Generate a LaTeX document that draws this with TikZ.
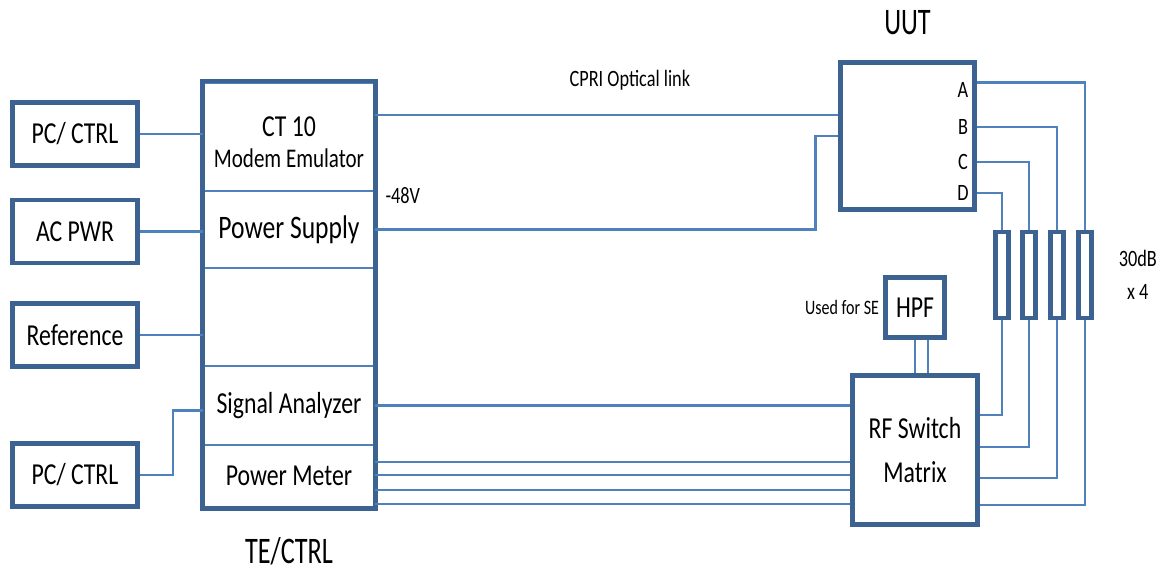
\documentclass[tikz,border=0pt]{standalone}
\usepackage{fontspec}
\setmainfont{Carlito}[FakeStretch=0.78]
\newfontfamily\titlefont{Carlito}[FakeStretch=0.7]
\usepackage{tikz}
\usetikzlibrary{positioning}
\definecolor{boxblue}{RGB}{60,98,146}
\definecolor{lineblue}{RGB}{79,129,189}
\tikzset{box/.style={draw=boxblue, line width=4pt, inner sep=0pt, align=center,
       font=\fontsize{26}{29}\selectfont},
       sect/.style={draw=lineblue, line width=2.2pt, minimum width=5.1cm,
       inner sep=0pt, align=center, font=\fontsize{26}{29}\selectfont},
       link/.style={draw=lineblue, line width=2.3pt},
       title/.style={inner sep=0pt, font=\titlefont\fontsize{32}{34}\selectfont},
       tag/.style={inner sep=0pt, align=center, font=\fontsize{20}{28}\selectfont}}

\begin{document}
\begin{tikzpicture}[x=0.03cm,y=-0.03cm]
       \useasboundingbox (0,0) rectangle (1171,573);
       \node[box, minimum width=3.75cm, minimum height=1.89cm] (pc1) at (75,134) {PC/ CTRL};
       \node[box, minimum width=3.75cm, minimum height=1.89cm] (acpwr) at (75,231.5) {AC PWR};
       \node[box, minimum width=3.75cm, minimum height=1.89cm] (ref) at (75,335) {Reference};
       \node[box, minimum width=3.75cm, minimum height=1.89cm] (pc2) at (75,475) {PC/ CTRL};
       \node[sect, minimum height=3.26cm] (ct) at (289,136.75) {};
       \node[inner sep=0pt, align=center, font=\fontsize{26}{27}\selectfont] (ctname)
       at ([yshift=-1.6mm]ct.center) {CT 10\\\fontsize{23}{27}\selectfont Modem Emulator};
       \node[sect, minimum height=2.31cm, font=\fontsize{28}{30}\selectfont] (ps) at (289,229.5) {Power Supply};
       \node[sect, minimum height=2.94cm] (blank) at (289,317) {};
       \node[sect, minimum height=2.37cm] (sa) at (289,405.5) {Signal Analyzer};
       \node[sect, minimum height=1.875cm] (pm) at (289,476.25) {Power Meter};
       \draw[box] (ct.north west) rectangle (pm.south east);
       \node[title, below=8.5mm of pm] (te) {TE/CTRL};
       \node[box, minimum width=4.02cm, minimum height=4.41cm] (uut) at (907.5,136) {};
       \node[title, above=7.6mm of uut] (uutname) {UUT};
       \node[tag] (lA) at (963,90) {A};
       \node[tag] (lB) at (963,127) {B};
       \node[tag] (lC) at (963,162) {C};
       \node[tag] (lD) at (963,193) {D};
       \node[box, line width=3.5pt, minimum width=0.39cm, minimum height=2.58cm] (attD) at (1002,275) {};
       \node[box, line width=3.5pt, minimum width=0.39cm, minimum height=2.58cm] (attC) at (1029,275) {};
       \node[box, line width=3.5pt, minimum width=0.39cm, minimum height=2.58cm] (attB) at (1057,275) {};
       \node[box, line width=3.5pt, minimum width=0.39cm, minimum height=2.58cm] (attA) at (1085,275) {};
       \node[tag, right=7.5mm of attA] (attlabel) {30dB\\x 4};
       \node[box, minimum width=1.77cm, minimum height=1.8cm] (hpf) at (915,307.5) {HPF};
       \node[tag, font=\fontsize{17.5}{20}\selectfont, left=1.2mm of hpf] (se) {Used for SE};
       \node[box, minimum width=3.75cm, minimum height=4.47cm, font=\fontsize{26}{38}\selectfont] (rf)
       at (915,450) {RF Switch\\Matrix};
       \draw[link] (pc1.east) -- (pc1.east -| ct.west);
       \draw[link] (acpwr.east) -- (acpwr.east -| ps.west);
       \draw[link] (ref.east) -- (ref.east -| blank.west);
       \draw[link] (pc2.east) -- ++(33,0) |- ([yshift=-1.5mm]sa.west);
       \draw[link] ([yshift=6.5mm]ct.east) -- ([yshift=6.5mm]ct.east -| uut.west)
       node[tag, pos=0.55, above=7mm] {CPRI Optical link};
       \draw[link] (ps.east) -- ++(440,0) |- (uut.west);
       \node[tag, anchor=west] (volt) at ([xshift=3mm,yshift=-1.8mm]ps.north east) {-48V};
       \draw[link] (lA.north -| uut.east) -| (attA.north);
       \draw[link] (lB -| uut.east) -| (attB.north);
       \draw[link] (lC -| uut.east) -| (attC.north);
       \draw[link] (lD -| uut.east) -| (attD.north);
       \draw[link] ([yshift=10.5mm]rf.east) -| (attD.south);
       \draw[link] ([yshift=0.9mm]rf.east) -| (attC.south);
       \draw[link] ([yshift=-8.4mm]rf.east) -| (attB.south);
       \draw[link] ([yshift=-16.5mm]rf.east) -| (attA.south);
       \draw[link] (sa.east) -- (sa.east -| rf.west);
       \foreach \dy in {4.3,0.4,-4.1,-8.3}
       \draw[link] ([yshift=\dy mm]pm.east) -- ([yshift=\dy mm]pm.east -| rf.west);
       \draw[link] (hpf.south) -- (hpf.south |- rf.north);
       \draw[link] ([xshift=3.9mm]hpf.south) -- ([xshift=3.9mm]hpf.south |- rf.north);
\end{tikzpicture}
\end{document}
